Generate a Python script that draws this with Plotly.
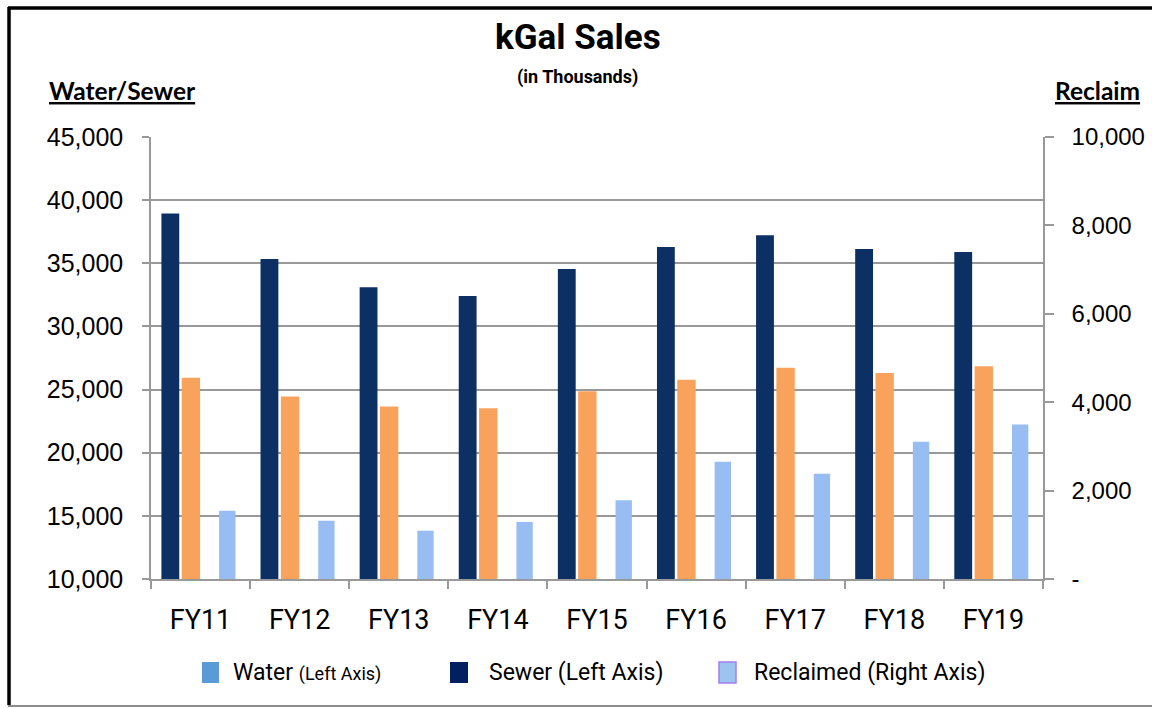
import plotly.graph_objects as go

# Fiscal-year kGal sales (thousands)
fiscal_years = ["FY11", "FY12", "FY13", "FY14", "FY15", "FY16", "FY17", "FY18", "FY19"]
sewer = [38950, 35340, 33100, 32410, 34550, 36290, 37215, 36130, 35890]
water = [25930, 24450, 23650, 23530, 24870, 25770, 26720, 26320, 26850]
reclaimed = [1546, 1320, 1093, 1290, 1779, 2655, 2383, 3108, 3493]

left_ticks = [10000, 15000, 20000, 25000, 30000, 35000, 40000, 45000]
right_ticks = [0, 2000, 4000, 6000, 8000, 10000]
right_tick_text = ["-", "2,000", "4,000", "6,000", "8,000", "10,000"]

W, H = 1152, 708
ML, MR, MT, MB = 151, 109, 137, 129
PW, PH = W - ML - MR, H - MT - MB


def fx(px):
    return (px - ML) / PW


def fy(py):
    return (H - MB - py) / PH


COND = "Roboto, Liberation Sans, sans-serif"
ARIAL = "Liberation Sans, Arial, sans-serif"
HEAD = "Lato, Open Sans, sans-serif"

NAVY = "#0c3064"
ORANGE = "#f9a25c"
LIGHTBLUE = "#98bdf2"
GRID = "#999999"

fig = go.Figure()
fig.add_trace(go.Bar(x=fiscal_years, y=sewer, name="Sewer", marker=dict(color=NAVY, line=dict(width=0)),
                     offset=-0.395, width=0.18, yaxis="y"))
fig.add_trace(go.Bar(x=fiscal_years, y=water, name="Water", marker=dict(color=ORANGE, line=dict(width=0)),
                     offset=-0.19, width=0.185, yaxis="y"))
fig.add_trace(go.Bar(x=fiscal_years, y=reclaimed, name="Reclaimed", marker=dict(color=LIGHTBLUE, line=dict(width=0)),
                     offset=0.187, width=0.165, yaxis="y2"))

shapes = [
    # outer frame
    dict(type="line", xref="paper", yref="paper", x0=fx(8), x1=fx(1160), y0=fy(8), y1=fy(8),
         line=dict(color="black", width=3.5)),
    dict(type="line", xref="paper", yref="paper", x0=fx(9), x1=fx(9), y0=fy(7), y1=fy(705),
         line=dict(color="black", width=3.5)),
    dict(type="line", xref="paper", yref="paper", x0=fx(8), x1=fx(1160), y0=fy(706), y1=fy(706),
         line=dict(color="#666666", width=1.5)),
]

# legend swatches
legend_items = [
    (202, 219, "#5b9bd5", None),
    (450, 468, "#002060", None),
    (719, 736, "#9dc3f0", "#a47cf4"),
]
for x0, x1, col, edge in legend_items:
    shapes.append(dict(type="rect", xref="paper", yref="paper", x0=fx(x0), x1=fx(x1), y0=fy(683), y1=fy(662),
                       fillcolor=col, line=dict(color=edge if edge else col, width=1.5 if edge else 0)))

annotations = [
    dict(text="<b>kGal Sales</b>", x=fx(578), y=fy(38), xref="paper", yref="paper", showarrow=False,
         font=dict(family=COND, size=35, color="black"), xanchor="center", yanchor="middle"),
    dict(text="<b>(in Thousands)</b>", x=fx(577), y=fy(77), xref="paper", yref="paper", showarrow=False,
         font=dict(family=COND, size=18, color="black"), xanchor="center", yanchor="middle"),
    dict(text="<b><u>Water/Sewer</u></b>", x=fx(122), y=fy(91), xref="paper", yref="paper", showarrow=False,
         font=dict(family=HEAD, size=24.5, color="black"), xanchor="center", yanchor="middle"),
    dict(text="<b><u>Reclaim</u></b>", x=fx(1097), y=fy(91), xref="paper", yref="paper", showarrow=False,
         font=dict(family=HEAD, size=24.5, color="black"), xanchor="center", yanchor="middle"),
    dict(text="Water <span style='font-size:18px'>(Left Axis)</span>", x=fx(231), y=fy(672), xref="paper",
         yref="paper", showarrow=False, font=dict(family=COND, size=23, color="black"),
         xanchor="left", yanchor="middle"),
    dict(text="Sewer (Left Axis)", x=fx(487), y=fy(672), xref="paper", yref="paper", showarrow=False,
         font=dict(family=COND, size=23, color="black"), xanchor="left", yanchor="middle"),
    dict(text="Reclaimed (Right Axis)", x=fx(752), y=fy(672), xref="paper", yref="paper", showarrow=False,
         font=dict(family=COND, size=23, color="black"), xanchor="left", yanchor="middle"),
]

fig.update_layout(
    width=W, height=H,
    margin=dict(l=ML, r=MR, t=MT, b=MB, pad=0, autoexpand=False),
    paper_bgcolor="white", plot_bgcolor="white",
    barmode="overlay",
    showlegend=False,
    shapes=shapes,
    annotations=annotations,
    xaxis=dict(
        type="category", categoryorder="array", categoryarray=fiscal_years,
        tickson="boundaries", ticks="outside", ticklen=8, tickcolor=GRID, tickwidth=1.5,
        showline=True, linecolor=GRID, linewidth=1.5, showgrid=False,
        tickfont=dict(family=COND, size=27, color="black"),
        ticklabelstandoff=16, automargin=False,
    ),
    yaxis=dict(
        range=[10000, 45000], tickvals=left_ticks, tickformat=",",
        showgrid=True, gridcolor=GRID, gridwidth=1.5,
        ticks="outside", ticklen=7, tickcolor=GRID, tickwidth=1.5,
        showline=True, linecolor=GRID, linewidth=1.5, zeroline=False,
        tickfont=dict(family=ARIAL, size=25, color="black"),
        ticklabelstandoff=14, automargin=False,
    ),
    yaxis2=dict(
        range=[0, 10000], tickvals=right_ticks, ticktext=right_tick_text,
        overlaying="y", side="right", showgrid=False, zeroline=False,
        ticks="outside", ticklen=9, tickcolor=GRID, tickwidth=1.5,
        showline=True, linecolor=GRID, linewidth=1.5,
        tickfont=dict(family=ARIAL, size=24, color="black"),
        ticklabelstandoff=13, automargin=False,
    ),
)

fig.write_html("out.html")
